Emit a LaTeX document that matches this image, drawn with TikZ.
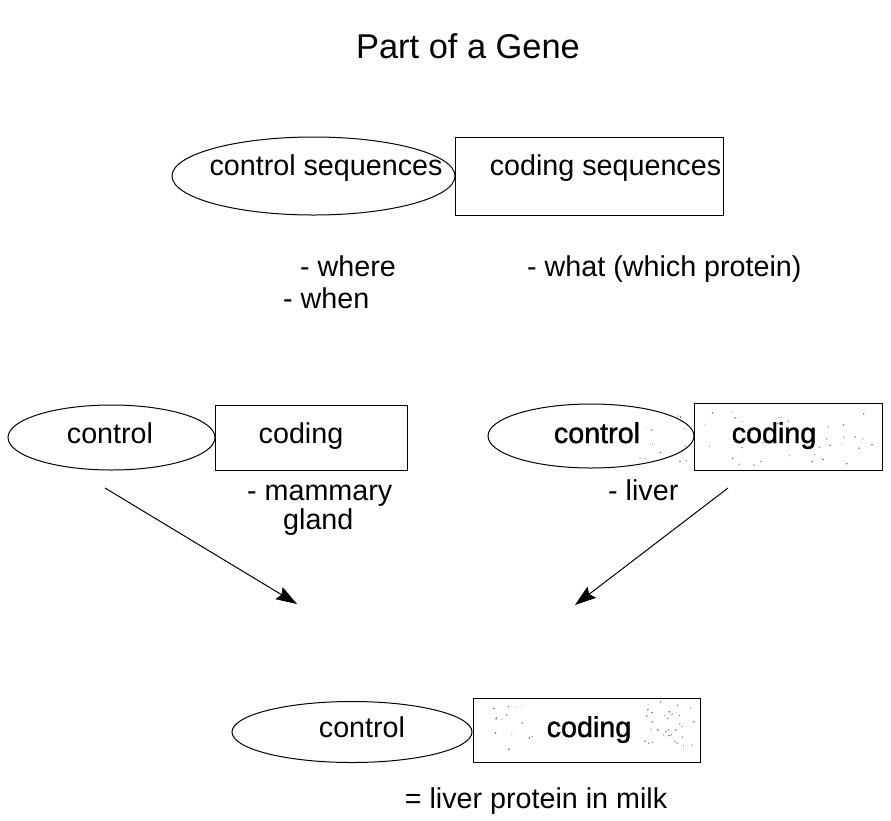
\documentclass[tikz,border=0pt]{standalone}
\usepackage{fontspec}
\setmainfont{Liberation Sans}
\newfontfamily\heavyface{Liberation Sans}[FakeBold=1.3]
\usetikzlibrary{shapes.geometric,arrows.meta}

\tikzset{
  part/.style={draw=black, line width=1pt, inner sep=0pt},
  ctrl/.style={part, ellipse},
  codebox/.style={part, rectangle},
  lbl/.style={anchor=base, inner sep=0pt, font=\fontsize{28.7}{34}\selectfont},
  heavylbl/.style={lbl, font=\heavyface\fontsize{28.7}{34}\selectfont},
  ttl/.style={anchor=base, inner sep=0pt, font=\fontsize{34.4}{40}\selectfont},
  flow/.style={line width=1pt, -{Stealth[length=21pt,width=14pt,inset=3pt]}},
  speck/.style={fill=black!50}
}

% scattered stipple inside a region: #1,#2 = x range, #3,#4 = y range, #5 = count
\newcommand{\stipple}[5]{%
  \foreach \k in {1,...,#5}{%
    \pgfmathsetmacro{\sx}{#1+(#2-#1)*rnd}%
    \pgfmathsetmacro{\sy}{#3+(#4-#3)*rnd}%
    \pgfmathsetmacro{\sr}{0.45+0.55*rnd}%
    \fill[speck] (\sx,\sy) circle[radius=\sr pt];%
  }%
}

\begin{document}
\begin{tikzpicture}[x=1pt, y=-1pt]
\useasboundingbox (0,0) rectangle (891,820);
\pgfmathsetseed{4711}

% title
\node[ttl] (title) at (468,58) {Part of a Gene};

% general gene: control part + coding part
\node[ctrl, minimum width=283pt, minimum height=78pt] (ctrlTop) at (313.5,176) {};
\node[codebox, minimum width=268pt, minimum height=78pt] (codeTop) at (589,176) {};
\node[lbl] (ctrlTopTxt) at (326,175) {control sequences};
\node[lbl] (codeTopTxt) at (605.5,175) {coding sequences};

\node[lbl, anchor=base west] (where) at (300,276) {- where};
\node[lbl, anchor=base west] (when) at (283,308) {- when};
\node[lbl, anchor=base west] (what) at (527,276) {- what (which protein)};

% mammary gland gene
\node[ctrl, minimum width=207pt, minimum height=65pt] (ctrlL) at (111.5,437.5) {};
\node[codebox, minimum width=192pt, minimum height=65pt] (codeL) at (311,437.5) {};
\node[lbl] (ctrlLTxt) at (110,443) {control};
\node[lbl] (codeLTxt) at (301,443) {coding};
\node[lbl, anchor=base west] (mammary) at (247,500) {- mammary};
\node[lbl, anchor=base west] (gland) at (283,529) {gland};

% liver gene
\stipple{640}{690}{412}{462}{14}
\stipple{700}{876}{410}{466}{38}
\node[ctrl, minimum width=206pt, minimum height=64pt] (ctrlR) at (591,436) {};
\node[codebox, minimum width=188pt, minimum height=67pt] (codeR) at (788,436.5) {};
\node[heavylbl] (ctrlRTxt) at (597,443) {control};
\node[heavylbl] (codeRTxt) at (774,443) {coding};
\node[lbl, anchor=base west] (liver) at (608,500) {- liver};

% combined transgene
\stipple{490}{560}{706}{756}{14}
\stipple{640}{694}{702}{746}{34}
\node[ctrl, minimum width=240pt, minimum height=61pt] (ctrlB) at (352,732) {};
\node[codebox, minimum width=227pt, minimum height=64pt] (codeB) at (586.5,730) {};
\node[lbl] (ctrlBTxt) at (362,737) {control};
\node[heavylbl] (codeBTxt) at (589,737) {coding};
\node[lbl] (result) at (536,808) {= liver protein in milk};

% arrows combining the two parts
\coordinate (fromL) at (105,488);
\coordinate (toL) at (297,604);
\coordinate (fromR) at (728,488);
\coordinate (toR) at (575,605);
\draw[flow] (fromL) -- (toL);
\draw[flow] (fromR) -- (toR);
\end{tikzpicture}
\end{document}
